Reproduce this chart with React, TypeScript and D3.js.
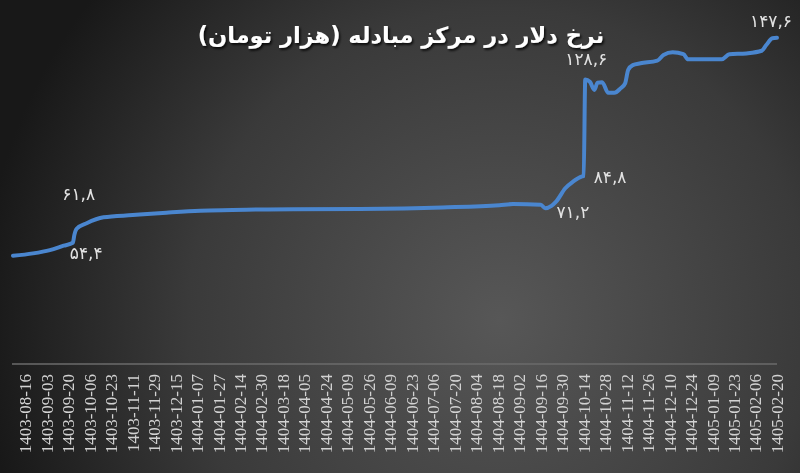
import React from 'react';
import * as d3 from 'd3';

// rate of the dollar at the exchange center (thousand toman)
// day index counts trading days from the first point
const dayIndex = [
    0, 13, 24, 33, 39, 40, 41.5, 48, 59, 78, 100, 122, 143, 166, 226, 280, 317, 326, 344, 347,
    351, 354, 360, 365, 371, 372, 373, 376, 379, 381, 384, 388, 392, 396, 399, 401, 404, 409,
    420, 424, 430, 437, 440, 462, 467, 478, 488, 491, 495, 498,
];
const rate = [
    48.5, 49.6, 51.1, 53.1, 54.4, 58, 60.8, 63.3, 66, 67, 68.1, 69, 69.3, 69.6, 69.8, 70.5, 71.5, 72, 71.7, 70.1,
    71.2, 73.1, 79.2, 82.2, 84.6, 84.8, 128.6, 127.6, 123.9, 127.2, 127.4, 122.6, 122.6, 124.6, 126.9, 133, 135.2, 136,
    137.2, 139.8, 141, 140.2, 137.8, 137.8, 140.1, 140.5, 141.7, 144.3, 147.4, 147.6,
];

const tickLabels = [
    '1403-08-16', '1403-09-03', '1403-09-20', '1403-10-06', '1403-10-23', '1403-11-11',
    '1403-11-29', '1403-12-15', '1404-01-07', '1404-01-27', '1404-02-14', '1404-02-30',
    '1404-03-18', '1404-04-05', '1404-04-24', '1404-05-09', '1404-05-26', '1404-06-09',
    '1404-06-23', '1404-07-06', '1404-07-20', '1404-08-04', '1404-08-18', '1404-09-02',
    '1404-09-16', '1404-09-30', '1404-10-14', '1404-10-28', '1404-11-12', '1404-11-26',
    '1404-12-10', '1404-12-24', '1405-01-09', '1405-01-23', '1405-02-06', '1405-02-20',
];
const firstTickDay = 8;
const tickEvery = 14;

// labelled points
const calloutDay = [41.5, 39, 351, 372, 373, 498];
const calloutText = ['۶۱,۸', '۵۴,۴', '۷۱,۲', '۸۴,۸', '۱۲۸,۶', '۱۴۷,۶'];
// label placement relative to its point: [dx, dy, anchor]
const calloutPlace: [number, number, string][] = [
    [2, -29, 'middle'],
    [-3, 16, 'start'],
    [5, 12, 'start'],
    [10, 7, 'start'],
    [1, -15, 'middle'],
    [-6, -11, 'middle'],
];

const title = 'نرخ دلار در مرکز مبادله (هزار تومان)';

const W = 800;
const H = 473;

export default function App() {
    const x = d3.scaleLinear().domain([0, 498]).range([13, 777]);
    const y = d3.scaleLinear().domain([0, 160]).range([362.5, 10.5]);

    const pts = dayIndex.map((d, i) => [d, rate[i]] as [number, number]);
    const line = d3.line<[number, number]>()
        .x(d => x(d[0]))
        .y(d => y(d[1]))
        .curve(d3.curveMonotoneX);

    const valueAt = (d: number) => rate[dayIndex.indexOf(d)];

    return (
        <svg width={W} height={H} style={{ position: 'fixed', left: 0, top: 0 }}>
            <defs>
                <radialGradient id="bg" gradientUnits="userSpaceOnUse" cx={500} cy={320} r={520}>
                    <stop offset="0" stopColor="#575757" />
                    <stop offset="0.6" stopColor="#3a3a3a" />
                    <stop offset="1" stopColor="#181818" />
                </radialGradient>
                <filter id="shadow" x="-10%" y="-30%" width="120%" height="160%">
                    <feDropShadow dx="1.5" dy="2" stdDeviation="1.2" floodColor="#000" floodOpacity="0.8" />
                </filter>
            </defs>
            <rect width={W} height={H} fill="url(#bg)" />

            <text x={401} y={43} textAnchor="middle" direction="rtl"
                  fontFamily="DejaVu Sans" fontWeight="bold" fontSize={22.5}
                  fill="#ffffff" filter="url(#shadow)">
                {title}
            </text>

            <line x1={12} x2={777} y1={364} y2={364} stroke="#6b6b6b" strokeWidth={1.5} />

            {tickLabels.map((t, i) => {
                const tx = x(firstTickDay + i * tickEvery);
                return (
                    <text key={t} transform={`translate(${tx},374) rotate(-90)`} dy="0.35em"
                          textAnchor="end" fontFamily="Liberation Serif" fontSize={17} fill="#d2d2d2">
                        {t}
                    </text>
                );
            })}

            <path d={line(pts) || ''} fill="none" stroke="#4a86cf" strokeWidth={4}
                  strokeLinejoin="round" strokeLinecap="round" />

            {calloutDay.map((d, i) => {
                const [dx, dy, anchor] = calloutPlace[i];
                return (
                    <text key={i} x={x(d) + dx} y={y(valueAt(d)) + dy} textAnchor={anchor}
                          direction="ltr" fontFamily="DejaVu Sans" fontSize={17} fill="#e2e2e2">
                        {calloutText[i]}
                    </text>
                );
            })}
        </svg>
    );
}
